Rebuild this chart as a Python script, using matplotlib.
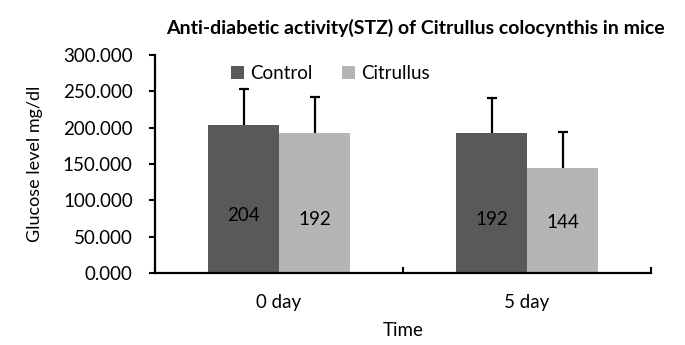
import matplotlib
matplotlib.use("Agg")
import matplotlib.pyplot as plt
import numpy as np

plt.rcParams['font.family'] = ['Lato', 'DejaVu Sans']

# Data
categories = ["0 day", "5 day"]
series_names = ["Control", "Citrullus"]
control = [204, 192]
citrullus = [192, 144]
control_err = [49, 49]
citrullus_err = [50, 50]
yticks = [0, 50, 100, 150, 200, 250, 300]

colors = ["#595959", "#b5b5b5"]

fig = plt.figure(figsize=(6.85, 3.45), dpi=100)
ax = fig.add_axes([0.2263, 0.2087, 0.7241, 0.6319])

x = np.arange(len(categories))
w = 0.2863
ax.bar(x - w / 2, control, w, color=colors[0], label=series_names[0], zorder=2)
ax.bar(x + w / 2, citrullus, w, color=colors[1], label=series_names[1], zorder=2)

# upper-only error bars
for xs, vals, errs in [(x - w / 2, control, control_err), (x + w / 2, citrullus, citrullus_err)]:
    _, caps, _ = ax.errorbar(xs, vals, yerr=[np.zeros(len(errs)), errs], fmt="none",
                             ecolor="black", elinewidth=1.6, capsize=3.3,
                             capthick=1.6, zorder=3)
    caps[0].set_visible(False)

# value labels placed in the lower half of each bar
label_frac = [[0.39, 0.38], [0.38, 0.48]]
for j, (xs, vals) in enumerate([(x - w / 2, control), (x + w / 2, citrullus)]):
    for i, v in enumerate(vals):
        ax.text(xs[i], v * label_frac[j][i], f"{v}", ha="center", va="center",
                fontsize=13.5, color="black", zorder=4)

ax.set_xlim(-0.5, 1.5)
ax.set_ylim(0, 300)
ax.set_yticks(yticks)
ax.set_yticklabels([f"{t:.3f}" for t in yticks], fontsize=13.5)

ax.set_xticks([-0.5, 0.5, 1.5])
ax.set_xticklabels([])
ax.set_xticks(x, minor=True)
ax.set_xticklabels(categories, minor=True, fontsize=13.5)
ax.tick_params(axis="x", which="major", direction="in", length=4, width=1.5)
ax.tick_params(axis="x", which="minor", length=0, pad=15)
ax.tick_params(axis="y", direction="out", length=4, width=1.5, pad=12)

for s in ["top", "right"]:
    ax.spines[s].set_visible(False)
for s in ["left", "bottom"]:
    ax.spines[s].set_linewidth(1.6)

ax.set_xlabel("Time", fontsize=13.5, labelpad=8)
ax.set_ylabel("Glucose level mg/dl", fontsize=13, labelpad=14)

fig.text(0.607, 0.919, "Anti-diabetic activity(STZ) of Citrullus colocynthis in mice",
         ha="center", va="center", fontsize=14, fontweight="bold")

ax.legend(loc="upper left", bbox_to_anchor=(0.138, 0.99), ncol=2, frameon=False,
          fontsize=13.5, handlelength=0.7, handleheight=0.7, handletextpad=0.3,
          columnspacing=1.6, borderaxespad=0)

fig.savefig("out.png", dpi=100)
